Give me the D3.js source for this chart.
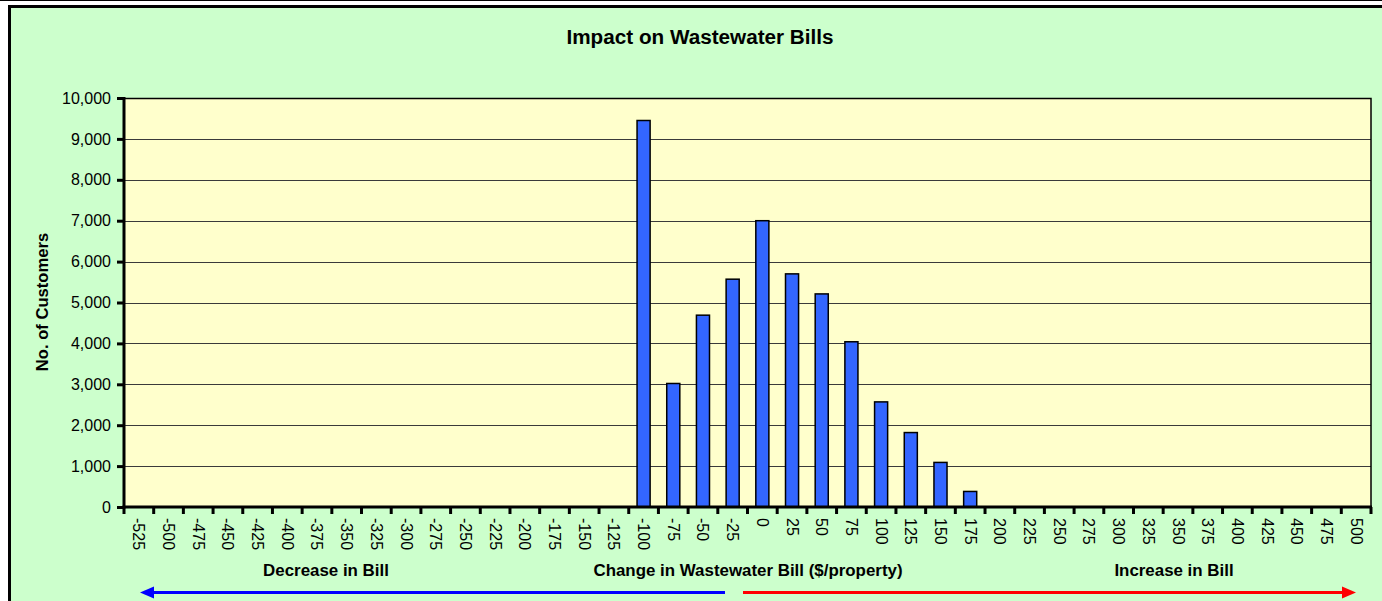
<!DOCTYPE html>
<html><head><meta charset="utf-8">
<script src="https://cdn.jsdelivr.net/npm/d3@7"></script>
<style>body{margin:0;background:#fff;} svg{display:block;font-family:"Liberation Sans",Arial,sans-serif;}</style>
</head><body>
<svg id="c" width="1382" height="601"></svg>
<script>
const categories = ["-525","-500","-475","-450","-425","-400","-375","-350","-325","-300","-275","-250","-225","-200","-175","-150","-125","-100","-75","-50","-25","0","25","50","75","100","125","150","175","200","225","250","275","300","325","350","375","400","425","450","475","500"];
const customers = [0,0,0,0,0,0,0,0,0,0,0,0,0,0,0,0,0,9450,3020,4690,5570,7000,5700,5210,4040,2570,1820,1090,380,0,0,0,0,0,0,0,0,0,0,0,0,0];
const yTicks = [0,1000,2000,3000,4000,5000,6000,7000,8000,9000,10000];
const title = "Impact on Wastewater Bills";
const yTitle = "No. of Customers";
const xTitle = "Change in Wastewater Bill ($/property)";
const leftNote = "Decrease in Bill";
const rightNote = "Increase in Bill";

const svg = d3.select("#c");
const L = 124, R = 1371, T = 98, B = 507;

// outer frame
svg.append("line").attr("x1",0).attr("x2",1382).attr("y1",0.5).attr("y2",0.5).attr("stroke","#000").attr("stroke-width",1);
svg.append("rect").attr("x",9.5).attr("y",6.5).attr("width",1400).attr("height",620)
  .attr("fill","#CCFFCC").attr("stroke","#000").attr("stroke-width",3);

const x = d3.scaleBand().domain(categories).range([L,R]).paddingInner(0.56).paddingOuter(0.28);
const x0 = d3.scaleBand().domain(categories).range([L,R]).padding(0);
const y = d3.scaleLinear().domain([0,10000]).range([B,T]);

// plot area
svg.append("rect").attr("x",L).attr("y",T).attr("width",R-L).attr("height",B-T).attr("fill","#FFFFCC");

// gridlines
svg.append("g").selectAll("line").data(yTicks.filter(d=>d>0)).join("line")
  .attr("x1",L).attr("x2",R).attr("y1",d=>Math.round(y(d))+0.5).attr("y2",d=>Math.round(y(d))+0.5)
  .attr("stroke","#3a3a3a").attr("stroke-width",1);

// plot border top/right
svg.append("path").attr("d",`M${L},${T+0.5}H${R}V${B}`).attr("fill","none").attr("stroke","#000").attr("stroke-width",1.5);

// bars
svg.append("g").selectAll("rect").data(categories.map((c,i)=>({c,v:customers[i]})).filter(d=>d.v>0)).join("rect")
  .attr("x",d=>x(d.c)).attr("width",x.bandwidth())
  .attr("y",d=>y(d.v)).attr("height",d=>B-y(d.v))
  .attr("fill","#3366FF").attr("stroke","#000").attr("stroke-width",1.5);

// y axis
const ya = svg.append("g").attr("transform",`translate(${L},0)`)
  .call(d3.axisLeft(y).tickValues(yTicks).tickFormat(d3.format(",")).tickSize(7).tickPadding(6));
ya.select(".domain").remove();
ya.selectAll(".tick line").attr("stroke","#000").attr("stroke-width",3);
ya.selectAll(".tick text").attr("font-size",16).attr("fill","#000").attr("font-family","Liberation Sans, Arial, sans-serif");

// x axis labels (rotated)
const xa = svg.append("g").attr("transform",`translate(0,${B})`);
xa.selectAll("text").data(categories).join("text")
  .attr("transform",d=>`translate(${x0(d)+x0.bandwidth()/2},11) rotate(90)`)
  .attr("dominant-baseline","central").attr("text-anchor","start")
  .attr("font-size",16).attr("fill","#000").text(d=>d);
// x tick marks at band boundaries
const bounds = categories.map(c=>x0(c)).concat([R]);
xa.selectAll("line.tk").data(bounds).join("line").attr("class","tk")
  .attr("x1",d=>d).attr("x2",d=>d).attr("y1",0).attr("y2",7)
  .attr("stroke","#000").attr("stroke-width",3);

// axis lines
svg.append("line").attr("x1",L).attr("x2",L).attr("y1",T-1).attr("y2",B+1.5).attr("stroke","#000").attr("stroke-width",3);
svg.append("line").attr("x1",L-1.5).attr("x2",R+1).attr("y1",B).attr("y2",B).attr("stroke","#000").attr("stroke-width",3);

// titles
svg.append("text").attr("x",700).attr("y",36).attr("text-anchor","middle").attr("dominant-baseline","central")
  .attr("font-size",20.7).attr("font-weight","bold").text(title);
svg.append("text").attr("transform","translate(42.5,302) rotate(-90)").attr("text-anchor","middle").attr("dominant-baseline","central")
  .attr("font-size",16.6).attr("font-weight","bold").text(yTitle);
svg.append("text").attr("x",748).attr("y",570).attr("text-anchor","middle").attr("dominant-baseline","central")
  .attr("font-size",16.9).attr("font-weight","bold").text(xTitle);
svg.append("text").attr("x",326).attr("y",570).attr("text-anchor","middle").attr("dominant-baseline","central")
  .attr("font-size",16.9).attr("font-weight","bold").text(leftNote);
svg.append("text").attr("x",1174).attr("y",570).attr("text-anchor","middle").attr("dominant-baseline","central")
  .attr("font-size",16.9).attr("font-weight","bold").text(rightNote);

// arrows
const ay = 592.5;
svg.append("line").attr("x1",152).attr("x2",725).attr("y1",ay).attr("y2",ay).attr("stroke","#0000FF").attr("stroke-width",3);
svg.append("path").attr("d",`M140,${ay}L154,${ay-6}L154,${ay+6}Z`).attr("fill","#0000FF");
svg.append("line").attr("x1",743).attr("x2",1343).attr("y1",ay).attr("y2",ay).attr("stroke","#FF0000").attr("stroke-width",3);
svg.append("path").attr("d",`M1356,${ay}L1342,${ay-6}L1342,${ay+6}Z`).attr("fill","#FF0000");
</script>
</body></html>
